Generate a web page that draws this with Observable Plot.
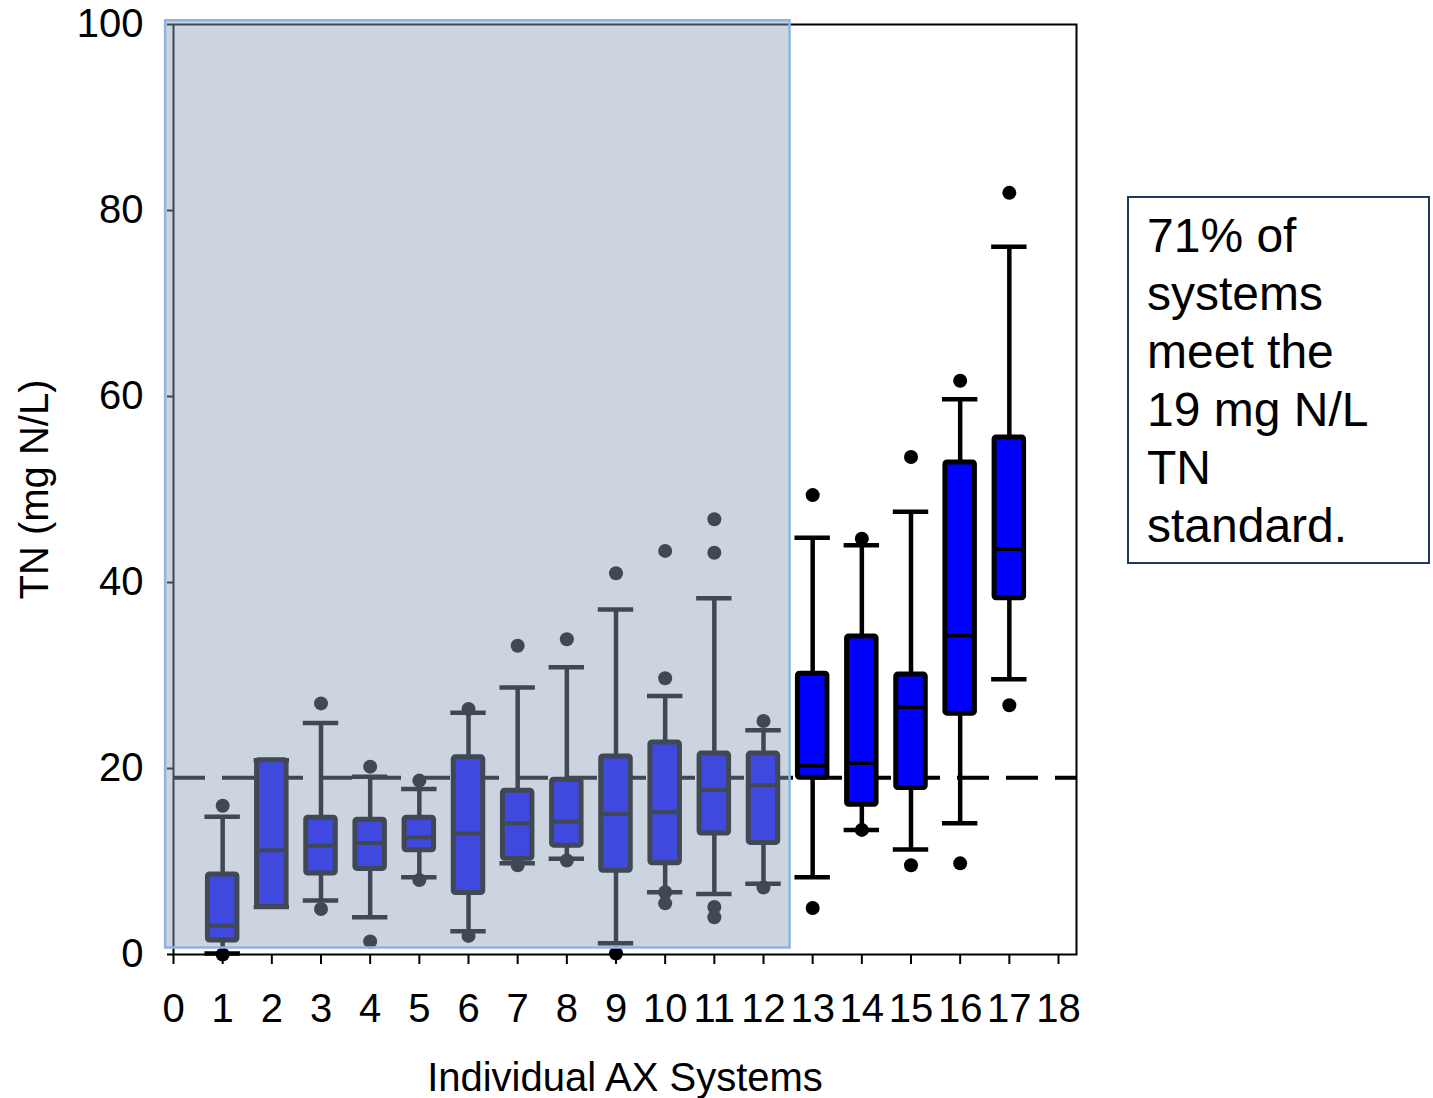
<!DOCTYPE html>
<html>
<head>
<meta charset="utf-8">
<script src="https://cdn.jsdelivr.net/npm/d3@7"></script>
<script src="https://cdn.jsdelivr.net/npm/@observablehq/plot@0.6"></script>
<style>
  html, body { margin: 0; padding: 0; background: white; }
  #wrap { position: relative; width: 1433px; height: 1098px; font-family: "Liberation Sans", Arial, sans-serif; }
  #note {
    position: absolute; left: 1127px; top: 196px;
    border: 2px solid #1f3a5f; box-sizing: content-box;
    padding: 9px 0 0 18px; width: 281px; height: 355px;
    font-size: 48px; line-height: 58px; color: black; white-space: nowrap;
  }
</style>
</head>
<body>
<div id="wrap"><div id="note"></div></div>
<script>
const systems     = [1, 2, 3, 4, 5, 6, 7, 8, 9, 10, 11, 12, 13, 14, 15, 16, 17];
const whiskerLow  = [0.1, 5.1, 5.8, 4.0, 8.3, 2.5, 9.8, 10.3, 1.2, 6.7, 6.5, 7.6, 8.3, 13.4, 11.3, 14.1, 29.6];
const q1          = [1.5, 5.1, 8.7, 9.2, 11.2, 6.6, 10.3, 11.7, 9.0, 9.8, 13.0, 12.0, 19.0, 16.1, 17.9, 25.9, 38.3];
const medians     = [3.1, 11.2, 11.7, 12.0, 12.6, 13.0, 14.1, 14.3, 15.1, 15.3, 17.7, 18.2, 20.3, 20.6, 26.6, 34.3, 43.6];
const q3          = [8.6, 20.9, 14.7, 14.5, 14.7, 21.2, 17.6, 18.8, 21.3, 22.8, 21.6, 21.6, 30.2, 34.2, 30.1, 52.9, 55.6];
const whiskerHigh = [14.8, 20.9, 24.9, 19.1, 17.8, 26.0, 28.7, 30.9, 37.1, 27.8, 38.3, 24.1, 44.8, 44.0, 47.6, 59.7, 76.1];
const outlierSystem = [1, 1, 3, 3, 4, 4, 5, 5, 6, 6, 7, 7, 8, 8, 9, 9, 10, 10, 10, 10, 11, 11, 11, 11, 12, 12, 13, 13, 14, 14, 15, 15, 16, 16, 17, 17];
const outlierValue  = [16.0, 0.0, 27.0, 4.9, 20.2, 1.4, 18.7, 8.0, 26.4, 2.0, 33.2, 9.6, 33.9, 10.1, 41.0, 0.1, 43.4, 29.7, 6.7, 5.5, 46.8, 43.2, 5.1, 4.0, 25.1, 7.2, 49.4, 5.0, 44.7, 13.4, 53.5, 9.6, 61.7, 9.8, 81.9, 26.8];
const xTicks = [0, 1, 2, 3, 4, 5, 6, 7, 8, 9, 10, 11, 12, 13, 14, 15, 16, 17, 18];
const yTicks = [0, 20, 40, 60, 80, 100];
const standard = 19;
const shadedRange = [-0.16, 12.54];
const shadedY = [0.7, 100.4];
const noteLines = ["71% of", "systems", "meet the", "19 mg N/L", "TN", "standard."];
const xTitle = "Individual AX Systems";
const yTitle = "TN (mg N/L)";

const boxes = systems.map((s, i) => ({
  s, lo: whiskerLow[i], q1: q1[i], med: medians[i], q3: q3[i], hi: whiskerHigh[i]
}));
const outliers = outlierSystem.map((s, i) => ({ s, v: outlierValue[i] }));
const capHalf = 0.36, boxHalf = 0.3;

const chart = Plot.plot({
  width: 1433, height: 1098,
  marginLeft: 173, marginRight: 357, marginTop: 24, marginBottom: 144,
  x: { domain: [0, 18.366] },
  y: { domain: [0, 100] },
  style: { fontFamily: "'Liberation Sans', Arial, sans-serif", fontSize: "40px", background: "white", color: "black", overflow: "visible" },
  marks: [
    Plot.frame({ stroke: "black", strokeWidth: 2 }),
    Plot.axisX({ ticks: xTicks, tickSize: 10, tickPadding: 29, tickFormat: d => String(d), fontSize: 40, label: null, strokeWidth: 2 }),
    Plot.axisY({ ticks: yTicks, tickSize: 6, tickPadding: 24, tickFormat: d => String(d), fontSize: 40, label: null, strokeWidth: 2 }),
    Plot.ruleY([standard], { stroke: "black", strokeWidth: 4, strokeDasharray: "32,17" }),
    // whiskers
    Plot.ruleX(boxes, { x: "s", y1: "lo", y2: "hi", stroke: "black", strokeWidth: 4.5 }),
    Plot.ruleY(boxes, { y: "hi", x1: d => d.s - capHalf, x2: d => d.s + capHalf, stroke: "black", strokeWidth: 4.5 }),
    Plot.ruleY(boxes, { y: "lo", x1: d => d.s - capHalf, x2: d => d.s + capHalf, stroke: "black", strokeWidth: 4.5 }),
    // boxes
    Plot.rect(boxes, { x1: d => d.s - boxHalf, x2: d => d.s + boxHalf, y1: "q1", y2: "q3", fill: "#0000ff", stroke: "black", strokeWidth: 5, rx: 2 }),
    Plot.ruleY(boxes, { y: "med", x1: d => d.s - boxHalf, x2: d => d.s + boxHalf, stroke: "black", strokeWidth: 4 }),
    // outliers
    Plot.dot(outliers, { x: "s", y: "v", r: 7, fill: "black", stroke: "none" }),
    // shaded overlay over systems 1-12
    Plot.rect([0], { x1: shadedRange[0], x2: shadedRange[1], y1: shadedY[0], y2: shadedY[1], fill: "rgb(140,160,184)", fillOpacity: 0.45, clip: false }),
    Plot.rect([0], { x1: shadedRange[0], x2: shadedRange[1], y1: shadedY[0], y2: shadedY[1], fill: "none", stroke: "#8db4e2", strokeWidth: 2.5, clip: false }),
    // axis titles
    Plot.text([xTitle], { frameAnchor: "bottom", dy: 136, fontSize: 40, fill: "black" }),
    Plot.text([yTitle], { frameAnchor: "left", dx: -138, rotate: -90, textAnchor: "middle", fontSize: 40, fill: "black" })
  ]
});
document.getElementById("wrap").prepend(chart);
document.getElementById("note").innerHTML = noteLines.join("<br>");
</script>
</body>
</html>
